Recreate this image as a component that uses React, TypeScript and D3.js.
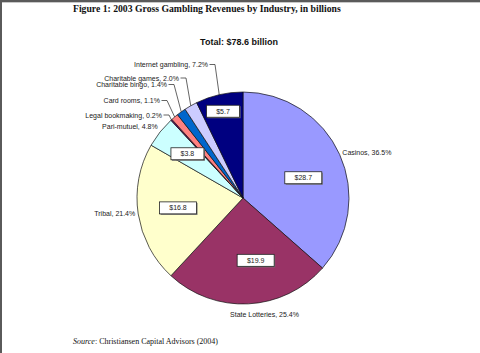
import { useEffect, useRef } from 'react';
import * as d3 from 'd3';

const WIDTH = 480;
const HEIGHT = 353;

const categories = [
  'Casinos',
  'State Lotteries',
  'Tribal',
  'Pari-mutuel',
  'Legal bookmaking',
  'Card rooms',
  'Charitable bingo',
  'Charitable games',
  'Internet gambling',
];
const shares = [36.5, 25.4, 21.4, 4.8, 0.2, 1.1, 1.4, 2.0, 7.2];
const revenues = [28.7, 19.9, 16.8, 3.8, 0.2, 0.9, 1.1, 1.6, 5.7];
const colors = ['#9999ff', '#993366', '#ffffcc', '#ccffff', '#660066', '#ff8080', '#0066cc', '#ccccff', '#000080'];

const title = 'Figure 1: 2003 Gross Gambling Revenues by Industry, in billions';
const subtitle = 'Total: $78.6 billion';
const sourceText = 'Christiansen Capital Advisors (2004)';

type Slice = { name: string; share: number; revenue: number; color: string };

const slices: Slice[] = categories.map((name, i) => ({
  name,
  share: shares[i],
  revenue: revenues[i],
  color: colors[i],
}));

// labels that Excel dragged away from their slice: right edge x, baseline y
const leaderSpots: Record<string, [number, number]> = {
  'Internet gambling': [208, 67],
  'Charitable games': [179, 80.5],
  'Charitable bingo': [167, 87],
  'Card rooms': [160, 103],
  'Legal bookmaking': [162, 117.5],
};

const App = () => {
  const svgRef = useRef<SVGSVGElement | null>(null);

  useEffect(() => {
    const svg = d3.select(svgRef.current);
    svg.selectAll('*').remove();

    const cx = 243;
    const cy = 198;
    const r = 106;
    const sans = 'Arial, "Liberation Sans", sans-serif';
    const serif = '"Times New Roman", "Liberation Serif", serif';

    svg.append('rect').attr('width', WIDTH).attr('height', HEIGHT).attr('fill', '#fff');
    // page edges of the scanned document
    svg.append('rect').attr('x', 0).attr('y', 0).attr('width', WIDTH).attr('height', 2).attr('fill', '#5a5a5a');
    svg.append('rect').attr('x', 0).attr('y', 2).attr('width', WIDTH).attr('height', 1).attr('fill', '#c8c8c8');
    svg.append('rect').attr('x', 0).attr('y', 0).attr('width', 2).attr('height', HEIGHT).attr('fill', '#5a5a5a');

    svg.append('text')
      .attr('x', 73).attr('y', 12)
      .attr('font-family', serif).attr('font-weight', 'bold').attr('font-size', 9.7)
      .attr('fill', '#111')
      .text(title);

    svg.append('text')
      .attr('x', 239).attr('y', 45)
      .attr('text-anchor', 'middle')
      .attr('font-family', sans).attr('font-weight', 'bold').attr('font-size', 9)
      .attr('fill', '#111')
      .text(subtitle);

    const src = svg.append('text')
      .attr('x', 73).attr('y', 344)
      .attr('font-family', serif).attr('font-size', 8)
      .attr('fill', '#111');
    src.append('tspan').attr('font-style', 'italic').text('Source');
    src.append('tspan').text(': ' + sourceText);

    const pie = d3.pie<Slice>().sort(null).value(d => d.share);
    const arcs = pie(slices);
    const arc = d3.arc<d3.PieArcDatum<Slice>>().innerRadius(0).outerRadius(r);

    const g = svg.append('g').attr('transform', `translate(${cx},${cy})`);
    g.selectAll('path')
      .data(arcs)
      .enter()
      .append('path')
      .attr('d', arc)
      .attr('fill', d => d.data.color)
      .attr('stroke', '#111')
      .attr('stroke-width', 0.7);

    const mid = (d: d3.PieArcDatum<Slice>) => (d.startAngle + d.endAngle) / 2;
    const at = (a: number, rr: number): [number, number] => [cx + rr * Math.sin(a), cy - rr * Math.cos(a)];

    // category labels
    arcs.forEach(d => {
      const a = mid(d);
      const label = `${d.data.name}, ${d.data.share.toFixed(1)}%`;
      const edge = at(a, r);
      const spot = leaderSpots[d.data.name];
      if (spot) {
        const [tx, ty] = spot;
        svg.append('text')
          .attr('x', tx).attr('y', ty)
          .attr('text-anchor', 'end')
          .attr('font-family', sans).attr('font-size', 7)
          .attr('fill', '#222')
          .text(label);
        const ly = ty - 2.5;
        const elbow = Math.min(edge[0], tx + 7);
        svg.append('path')
          .attr('d', d3.line()([[tx + 1.5, ly], [elbow, ly], edge]))
          .attr('fill', 'none')
          .attr('stroke', '#222')
          .attr('stroke-width', 0.7);
        return;
      }
      const s = Math.sin(a);
      const c = -Math.cos(a);
      const p = at(a, r + 3);
      const t = svg.append('text')
        .attr('font-family', sans).attr('font-size', 7)
        .attr('fill', '#222')
        .text(label);
      if (Math.abs(s) < 0.3) {
        t.attr('text-anchor', 'middle').attr('x', p[0] + 16).attr('y', p[1] + 10);
      } else {
        t.attr('text-anchor', s > 0 ? 'start' : 'end')
          .attr('x', p[0])
          .attr('y', c < -0.5 ? p[1] - 1 : p[1] + 2);
      }
    });

    // value boxes
    arcs.filter(d => d.data.share >= 4).forEach(d => {
      const a = mid(d) + (d.data.share > 30 ? 0.1 : d.data.share > 25 ? -0.15 : 0);
      const frac = d.data.share > 25 ? 0.6 : d.data.share > 15 ? 0.62 : d.data.share > 6 ? 0.84 : 0.67;
      const [x, y] = at(a, r * frac);
      const txt = `$${d.data.revenue.toFixed(1)}`;
      const w = txt.length * 4 + 17;
      const h = 12;
      svg.append('rect')
        .attr('x', x - w / 2 + 1).attr('y', y - h / 2 + 1)
        .attr('width', w).attr('height', h)
        .attr('fill', '#777');
      svg.append('rect')
        .attr('x', x - w / 2).attr('y', y - h / 2)
        .attr('width', w).attr('height', h)
        .attr('fill', '#fff')
        .attr('stroke', '#222')
        .attr('stroke-width', 0.8);
      svg.append('text')
        .attr('x', x).attr('y', y + 2.5)
        .attr('text-anchor', 'middle')
        .attr('font-family', sans).attr('font-size', 7)
        .attr('fill', '#222')
        .text(txt);
    });
  }, []);

  return (
    <div style={{ position: 'fixed', left: 0, top: 0 }}>
      <svg ref={svgRef} width={WIDTH} height={HEIGHT} style={{ display: 'block' }} />
    </div>
  );
};

export default App;
